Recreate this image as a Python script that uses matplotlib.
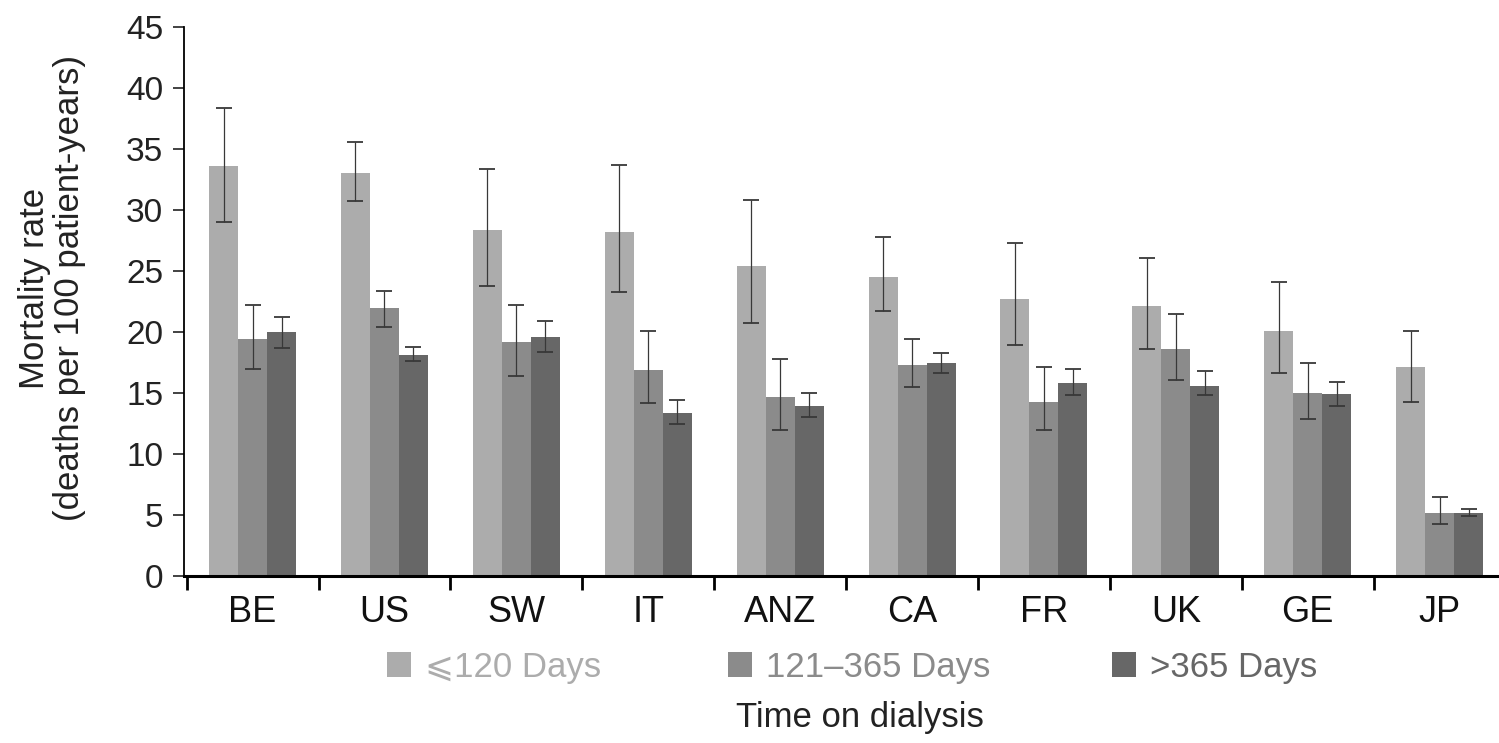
"""
Mortality rate by time on dialysis, per country (grouped bars with error bars).
"""

import numpy as np
import matplotlib
matplotlib.use("Agg")
import matplotlib.pyplot as plt
from matplotlib.ticker import FixedLocator

COUNTRIES = ["BE", "US", "SW", "IT", "ANZ", "CA", "FR", "UK", "GE", "JP"]
SERIES = ["\u2a7d120 Days", "121\u2013365 Days", ">365 Days"]
COLORS = ["#acacac", "#8b8b8b", "#676767"]  # light, medium, dark

# bar heights
RATE_LE120 = [33.6, 33.0, 28.4, 28.2, 25.4, 24.5, 22.7, 22.1, 20.1, 17.1]
RATE_121_365 = [19.4, 22.0, 19.2, 16.9, 14.7, 17.3, 14.3, 18.6, 15.0, 5.2]
RATE_GT365 = [20.0, 18.1, 19.6, 13.4, 13.9, 17.5, 15.8, 15.6, 14.9, 5.2]

# error bar ends (lower, upper)
LO_LE120 = [29.0, 30.7, 23.8, 23.3, 20.7, 21.7, 18.9, 18.6, 16.6, 14.3]
HI_LE120 = [38.4, 35.6, 33.4, 33.7, 30.8, 27.8, 27.3, 26.1, 24.1, 20.1]
LO_121_365 = [17.0, 20.4, 16.4, 14.2, 12.0, 15.5, 12.0, 16.1, 12.9, 4.3]
HI_121_365 = [22.2, 23.4, 22.2, 20.1, 17.8, 19.4, 17.1, 21.5, 17.5, 6.5]
LO_GT365 = [18.7, 17.6, 18.4, 12.5, 13.0, 16.6, 14.8, 14.8, 13.9, 4.9]
HI_GT365 = [21.2, 18.8, 20.9, 14.4, 15.0, 18.3, 17.0, 16.8, 15.9, 5.5]

plt.rcParams["font.family"] = ["Liberation Sans", "DejaVu Sans"]
W, H = 1499, 743

fig = plt.figure(figsize=(W / 100, H / 100), dpi=100)
ax = fig.add_axes([184 / W, 1 - 576 / H, 1 - 184 / W, (576 - 27) / H])

x = np.arange(len(COUNTRIES))
width = 0.22
data = [
    (RATE_LE120, LO_LE120, HI_LE120),
    (RATE_121_365, LO_121_365, HI_121_365),
    (RATE_GT365, LO_GT365, HI_GT365),
]

handles = []
for i, (vals, lo, hi) in enumerate(data):
    vals = np.array(vals)
    yerr = [vals - np.array(lo), np.array(hi) - vals]
    pos = x + (i - 1) * width
    b = ax.bar(pos, vals, width=width, color=COLORS[i], edgecolor="none",
               label=SERIES[i], zorder=2)
    ax.errorbar(pos, vals, yerr=yerr, fmt="none", ecolor="#383838",
                elinewidth=0.9, capsize=6, capthick=1.3, zorder=3)
    handles.append(b)

ax.set_ylim(0, 45)
ax.set_xlim(-0.52, 9.45)
ax.set_yticks(range(0, 46, 5))
ax.set_xticks(x)
ax.set_xticklabels(COUNTRIES)
ax.xaxis.set_minor_locator(FixedLocator(np.arange(-0.5, 10, 1.0)))

ax.tick_params(axis="y", labelsize=24, length=8, width=1.2, pad=7, colors="#222222")
ax.tick_params(axis="x", which="major", labelsize=26, length=0, pad=14, colors="#111111")
ax.tick_params(axis="x", which="minor", length=10, width=2, direction="out")

for side in ("top", "right"):
    ax.spines[side].set_visible(False)
ax.spines["left"].set_linewidth(1.3)
ax.spines["bottom"].set_linewidth(2.2)

# two-line y label
fig.text(52 / W, 1 - 288 / H, "Mortality rate\n(deaths per 100 patient-years)",
         rotation=90, ha="center", va="center", multialignment="center",
         fontsize=25, linespacing=1.05, color="#222222")

# legend entries, one per series, text coloured like the bars
for h, lab, col, px in zip(handles, SERIES, COLORS, [387, 728, 1112]):
    fig.legend(handles=[h], labels=[lab], loc="center left",
               bbox_to_anchor=(px / W, 1 - 667 / H), frameon=False,
               fontsize=25, labelcolor=col, handlelength=0.7, handleheight=0.7,
               handletextpad=0.4, borderpad=0, borderaxespad=0)

fig.text(860 / W, 1 - 718 / H, "Time on dialysis", ha="center", va="center",
         fontsize=25, color="#222222")

fig.savefig("out.png", dpi=100)
plt.close()
